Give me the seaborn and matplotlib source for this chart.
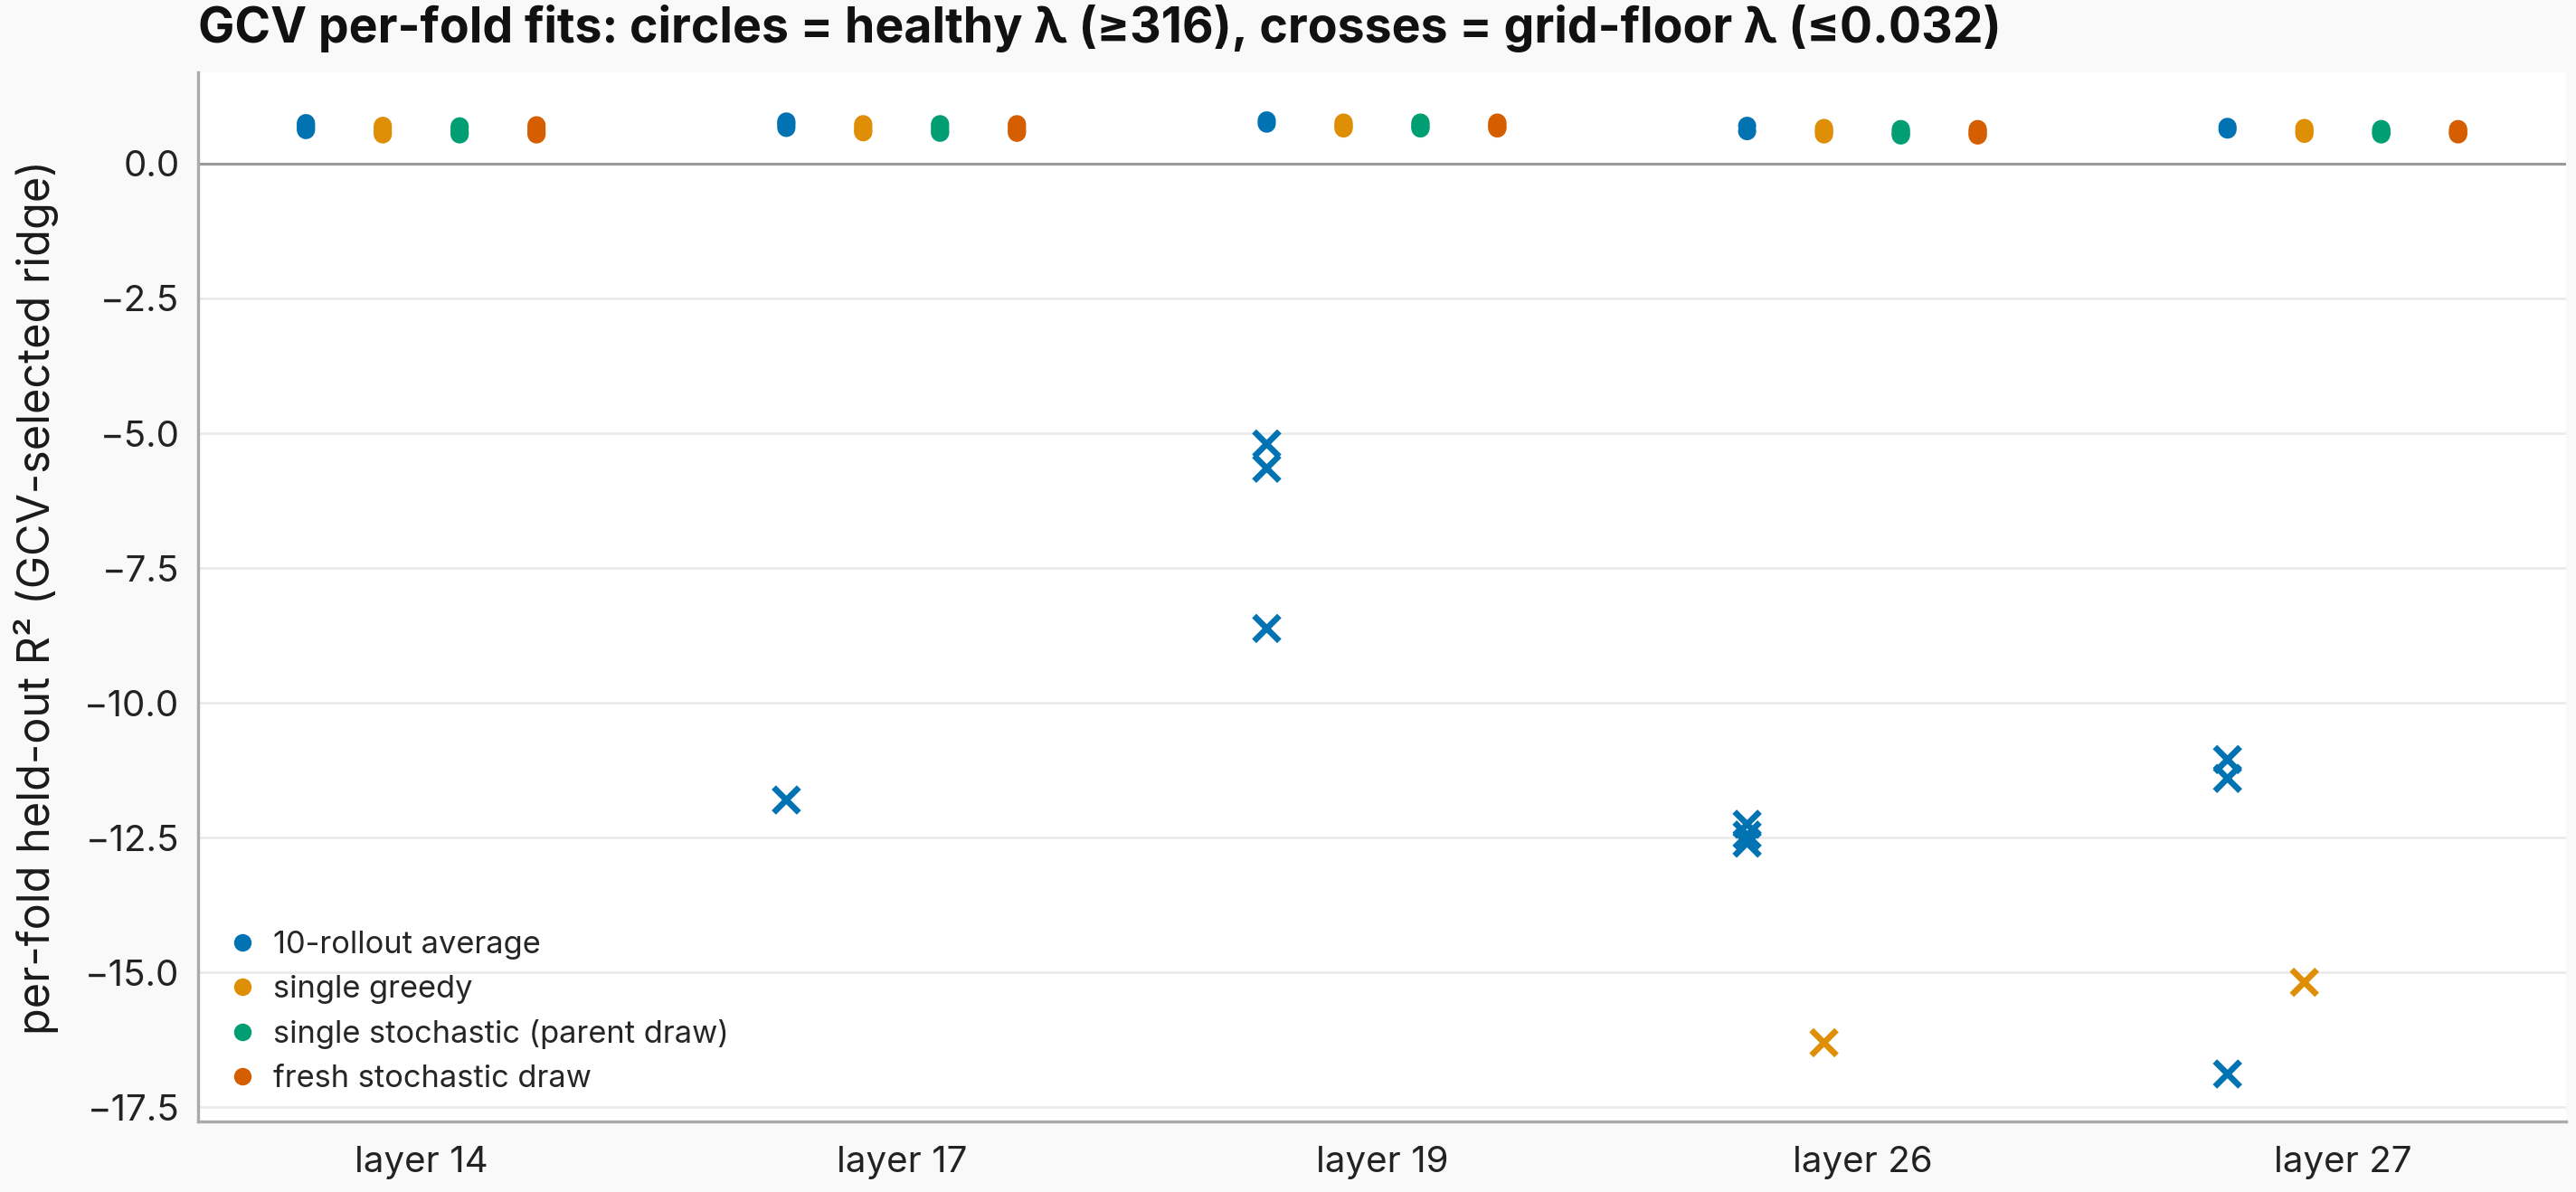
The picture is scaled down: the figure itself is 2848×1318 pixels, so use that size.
"""GCV per-fold ridge fits: held-out R² per layer and rollout variant."""

import matplotlib

matplotlib.use("Agg")
import matplotlib.pyplot as plt
import pandas as pd
import seaborn as sns

LAYERS = ["layer 14", "layer 17", "layer 19", "layer 26", "layer 27"]
SERIES = [
  "10-rollout average",
  "single greedy",
  "single stochastic (parent draw)",
  "fresh stochastic draw",
]

# per-fold held-out R², one inner list (5 folds) per layer
r2_rollout_avg = [
  [0.75, 0.72, 0.68, 0.65, 0.62],
  [0.78, 0.75, 0.71, 0.66, -11.8],
  [0.80, 0.74, -5.2, -5.65, -8.62],
  [0.70, 0.60, -12.25, -12.45, -12.6],
  [0.68, 0.63, -11.05, -11.4, -16.88],
]
r2_single_greedy = [
  [0.70, 0.66, 0.61, 0.57, 0.54],
  [0.73, 0.69, 0.64, 0.60, 0.58],
  [0.76, 0.73, 0.70, 0.67, 0.65],
  [0.66, 0.62, 0.58, 0.54, -16.3],
  [0.66, 0.62, 0.58, 0.55, -15.18],
]
r2_single_stochastic = [
  [0.69, 0.65, 0.60, 0.56, 0.54],
  [0.73, 0.69, 0.64, 0.59, 0.57],
  [0.76, 0.73, 0.70, 0.67, 0.65],
  [0.64, 0.60, 0.57, 0.54, 0.52],
  [0.64, 0.61, 0.58, 0.56, 0.54],
]
r2_fresh_stochastic = [
  [0.71, 0.66, 0.61, 0.57, 0.54],
  [0.73, 0.69, 0.64, 0.60, 0.57],
  [0.76, 0.73, 0.70, 0.67, 0.65],
  [0.64, 0.60, 0.57, 0.54, 0.52],
  [0.64, 0.61, 0.58, 0.56, 0.54],
]

PALETTE = ["#0173b2", "#de8f05", "#029e73", "#d55e00"]
DODGE = 0.16

rows = []
for s_idx, (name, values) in enumerate(
  zip(SERIES, [r2_rollout_avg, r2_single_greedy, r2_single_stochastic, r2_fresh_stochastic])
):
  for l_idx, folds in enumerate(values):
    for r2 in folds:
      rows.append(
        {
          "series": name,
          "layer": LAYERS[l_idx],
          "xpos": l_idx + (s_idx - 1.5) * DODGE,
          "r2": r2,
          "healthy": r2 > 0,
        }
      )
df = pd.DataFrame(rows)

sns.set_theme(style="white")
plt.rcParams["font.family"] = ["Inter", "DejaVu Sans"]

fig, ax = plt.subplots(figsize=(14.24, 6.59))
fig.patch.set_facecolor("#f9f9f9")
ax.set_facecolor("white")

sns.scatterplot(
  data=df[df["healthy"]], x="xpos", y="r2", hue="series", hue_order=SERIES,
  palette=PALETTE, marker="o", s=52, linewidth=0, ax=ax, zorder=3,
)
sns.scatterplot(
  data=df[~df["healthy"]], x="xpos", y="r2", hue="series", hue_order=SERIES,
  palette=PALETTE, marker="x", s=100, linewidth=2.4, ax=ax, legend=False, zorder=3,
)

ax.axhline(0, color="#999999", linewidth=1.1, zorder=1)
ax.yaxis.grid(True, color="#ebebeb", linewidth=1.0)
ax.set_axisbelow(True)

ax.set_xticks(range(len(LAYERS)))
ax.set_xticklabels(LAYERS)
ax.set_xlabel("")
ax.set_ylabel("per-fold held-out R² (GCV-selected ridge)", fontsize=17.5, color="#1a1a1a",
              labelpad=10)
ax.tick_params(axis="both", labelsize=14.5, colors="#222222")
ax.tick_params(axis="x", length=6, color="#aaaaaa", width=1)
ax.tick_params(axis="y", length=4, color="#aaaaaa", width=1)

for side in ["top", "right"]:
  ax.spines[side].set_visible(False)
for side in ["left", "bottom"]:
  ax.spines[side].set_color("#aaaaaa")
  ax.spines[side].set_linewidth(1.2)

ax.set_title(
  "GCV per-fold fits: circles = healthy λ (≥316), crosses = grid-floor λ (≤0.032)",
  loc="left", fontsize=19.3, fontweight="bold", color="#111111", pad=12,
)

leg = ax.legend(loc="lower left", frameon=False, fontsize=12.4, title=None,
                handlelength=1.0, handletextpad=0.5, borderaxespad=0.6,
                labelspacing=0.5, borderpad=0.3)
for h in leg.legend_handles:
  h.set_markersize(7)

fig.subplots_adjust(left=0.077, right=0.996, bottom=0.059, top=0.939)
fig.savefig("out.png", dpi=200, facecolor=fig.get_facecolor())
plt.close(fig)
